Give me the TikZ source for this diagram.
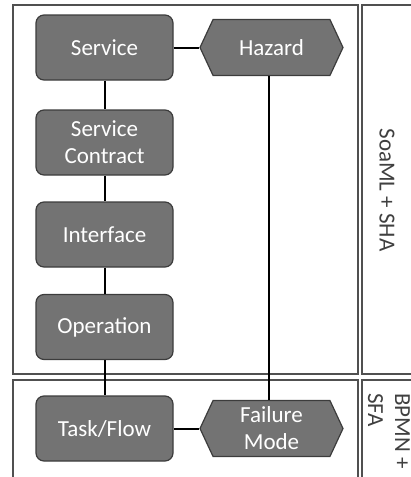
\documentclass[tikz,border=0pt]{standalone}
\usepackage{fontspec}
\setmainfont{Carlito}
\usetikzlibrary{shapes.symbols}
\definecolor{boxgray}{RGB}{115,115,115}
\definecolor{edgegray}{RGB}{60,60,60}
\definecolor{panelgray}{RGB}{80,80,80}
\definecolor{labelgray}{RGB}{64,64,64}

\begin{document}
\begin{tikzpicture}[x=1pt,y=-1pt]

      \useasboundingbox (0,0) rectangle (411,477);
      \clip (0,0) rectangle (411,477);

      % lanes
      \begin{scope}[draw=panelgray,line width=1.2pt]
        \draw (13,5)    rectangle (358,374);
        \draw (362,5)   rectangle (425,374);
        \draw (13,380)  rectangle (358,495);
        \draw (362,380) rectangle (425,495);
      \end{scope}

      \begin{scope}[every node/.style={text=labelgray,rotate=-90,align=left,
          font=\fontsize{23}{27}\selectfont}]
        \node (8) at (387,190) {SoaML + SHA};
        \node (9) at (389,431) {BPMN +\\SFA};
      \end{scope}

      \begin{scope}[every node/.style={fill=boxgray,draw=edgegray,line width=1.2pt,
          text=white,inner sep=0pt,align=center,font=\fontsize{23}{27}\selectfont}]
        \begin{scope}[every node/.append style={rounded corners=8pt,
            minimum width=137pt,minimum height=65pt}]
          \node (1) at (104.5,47.5)  {Service};
          \node (2) at (104.5,142.5) {Service\\Contract};
          \node (3) at (104.5,234.5) {Interface};
          \node (4) at (104.5,327)   {Operation};
          \node (5) at (104.5,428.5) {Task/Flow};
        \end{scope}
        \begin{scope}[every node/.append style={signal,signal to=west and east,
            signal pointer angle=130,minimum width=143pt,minimum height=56pt}]
          \node (6) at (271.5,47.5)  {Hazard};
          \node (7) at (271.5,428.5) {Failure\\Mode};
        \end{scope}
      \end{scope}

      \begin{scope}[line width=2pt]
        \path[draw] (1) -- (2) (2) -- (3) (3) -- (4) (4) -- (5);
        \path[draw] (1) -- (6) (5) -- (7);
        \path[draw] ([xshift=-3pt]6.south) -- ([xshift=-3pt]7.north);
      \end{scope}

    \end{tikzpicture}
\end{document}
